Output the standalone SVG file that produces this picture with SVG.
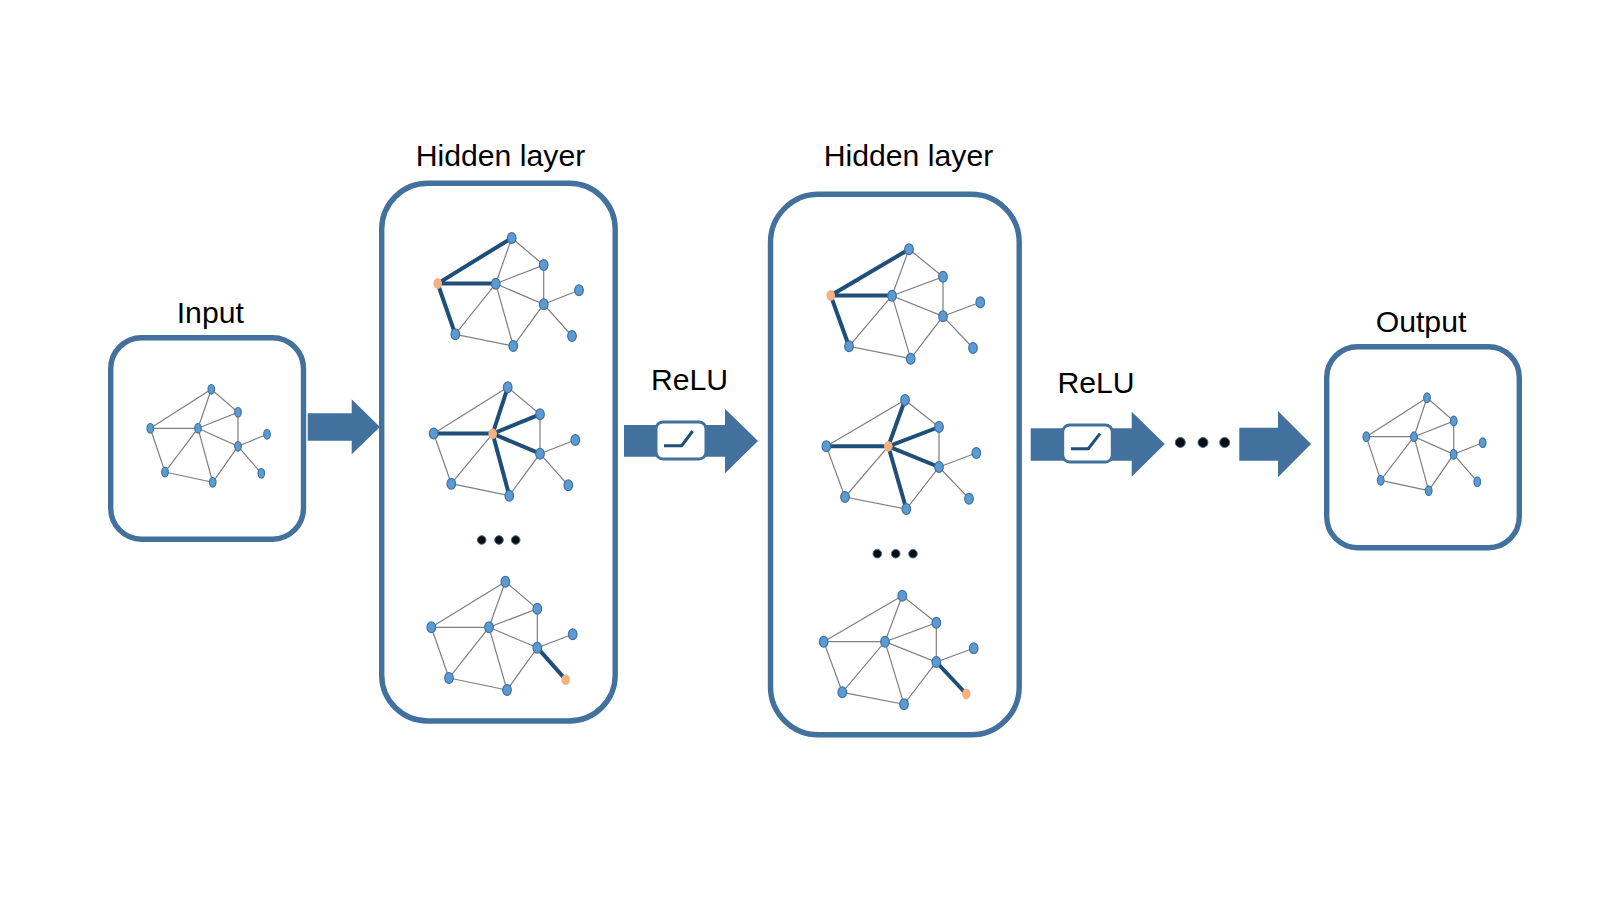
<svg xmlns="http://www.w3.org/2000/svg" width="1600" height="900" viewBox="0 0 1600 900">
<style>
text{font-family:"Liberation Sans",Arial,sans-serif;font-size:30.2px;fill:#000;text-anchor:middle}
.panel{fill:#fff;stroke:#41719c;stroke-width:5.4}
.arrow{fill:#41719c}
.e{stroke:#7f7f7f;stroke-width:1.2;fill:none}
.h{stroke:#1f4e79;stroke-width:4;fill:none}
.n{fill:#5b9bd5;stroke:#41719c;stroke-width:1.2}
.o{fill:#f4b183;stroke:none}
.s ellipse{rx:3.3px;ry:4.8px}
.b ellipse{rx:4.3px;ry:5.4px}
.dot{fill:#0d0d0d;stroke:#41719c;stroke-width:1}
.sw{fill:#fff;stroke:#41719c;stroke-width:3}
.gl{fill:none;stroke:#1f4e79;stroke-width:3}
</style>
<rect width="1600" height="900" fill="#fff"/>

<g id="input"><rect class="panel" x="110.7" y="337.7" width="192.8" height="201.5" rx="31"/><text x="210.3" y="323">Input</text></g>
<g id="hidden1"><rect class="panel" x="381.7" y="183.3" width="233.5" height="537.7" rx="46"/><text x="500.5" y="166">Hidden layer</text></g>
<g id="hidden2"><rect class="panel" x="770.5" y="194.3" width="248.7" height="540.5" rx="48"/><text x="908.5" y="166">Hidden layer</text></g>
<g id="output"><rect class="panel" x="1326.7" y="346.7" width="192.6" height="201" rx="31"/><text x="1421" y="332">Output</text></g>
<g id="label-relu1"><text x="689.5" y="390">ReLU</text></g>
<g id="label-relu2"><text x="1096" y="393">ReLU</text></g>

<g id="connectors">
<path id="arrow1" class="arrow" d="M307.7 413.3H351.7V399.3L380 427L351.7 454.3V440.7H307.7Z"/>
<path id="arrow2" class="arrow" d="M624 425H725V408.7L758 441L725 473.3V456.7H624Z"/>
<path id="arrow3" class="arrow" d="M1030.7 428.3H1131.7V411.7L1164.8 444L1131.7 476.7V460.7H1030.7Z"/>
<path id="arrow4" class="arrow" d="M1239.3 427.7H1278V411L1311 444L1278 477.3V460.7H1239.3Z"/>

<g id="edges-input" class="e"><path d="M150.3 428.3L211.3 389.3L238 412.3L198 428.3L211.3 389.3M238 412.3V446.3L198 428.3H150.3L165 472L198 428.3L212.7 482.3L165 472M212.7 482.3L238 446.3L267 434.3M238 446.3L261.3 473.3"/></g>

<g id="edges-h1a"><path class="e" d="M511.7 238L543.7 265L495.7 283.7L511.7 238M543.7 265V304.3L495.7 283.7L455.3 334.3L513.3 346L543.7 304.3L579 290.3M543.7 304.3L572 336M495.7 283.7L513.3 346"/><path class="h" d="M511.7 238L437.7 283.5L455.3 334.3M437.7 283.5H495.7"/></g>
<g id="edges-h1b"><path class="e" d="M433.7 433.5L507.7 387.3L540 414.3V453.7L509.3 495.7L451.3 483.7L433.7 433.5M451.3 483.7L492.7 433.7M540 453.7L575.3 440M540 453.7L568.3 485.3"/><path class="h" d="M433.7 433.5H492.7L507.7 387.3M492.7 433.7L540 414.3M492.7 433.7L540 453.7M492.7 433.7L509.3 495.7"/></g>
<g id="edges-h1c"><path class="e" d="M431.3 627.3L505.3 581.7L537.3 608.7L489 627.3L505.3 581.7M537.3 608.7V647.7L489 627.3H431.3L449 678L489 627.3L507 690L449 678M507 690L537.3 647.7L572.7 634.3"/><path class="h" d="M537.3 647.7L565.7 679.7"/></g>

<g id="edges-h2a"><path class="e" d="M909 249.3L943 276.7L892 295.7L909 249.3M943 276.7V316.3L892 295.7L849 346.3L910.7 358.7L943 316.3L980.3 302.3M943 316.3L973 348M892 295.7L910.7 358.7"/><path class="h" d="M909 249.3L830.7 295.5L849 346.3M830.7 295.5H892"/></g>
<g id="edges-h2b"><path class="e" d="M826.3 446.3L905 400L939 427V467L906.3 509L845 497L826.3 446.3M845 497L888.3 446.3M939 467L976.3 453M939 467L969 498.7"/><path class="h" d="M826.3 446.3H888.3L905 400M888.3 446.3L939 427M888.3 446.3L939 467M888.3 446.3L906.3 509"/></g>
<g id="edges-h2c"><path class="e" d="M823.7 641.7L902.3 595.7L936.3 622.7L885 641.7L902.3 595.7M936.3 622.7V662L885 641.7H823.7L842.3 692.3L885 641.7L904 704.3L842.3 692.3M904 704.3L936.3 662L973.7 648.3"/><path class="h" d="M936.3 662L966.3 694"/></g>

<g id="edges-output" class="e"><path d="M1366.3 436.7L1427 397.7L1453.7 421L1414 436.7L1427 397.7M1453.7 421V454.3L1414 436.7H1366.3L1380.7 480.3L1414 436.7L1428.7 490.7L1380.7 480.3M1428.7 490.7L1453.7 454.3L1482.7 442.7M1453.7 454.3L1477.3 481.7"/></g>
</g>

<g id="switch1"><rect class="sw" x="656" y="422" width="50" height="37" rx="7"/><path class="gl" d="M664 445.7H681.7L692.7 431"/></g>
<g id="switch2"><rect class="sw" x="1062.7" y="425" width="49.6" height="37" rx="7"/><path class="gl" d="M1071 448.7H1088.3L1100 433.7"/></g>

<g id="graph-input" class="s">
<g id="i-a"><ellipse class="n" cx="211.3" cy="389.3"/></g>
<g id="i-b"><ellipse class="n" cx="238" cy="412.3"/></g>
<g id="i-c"><ellipse class="n" cx="198" cy="428.3"/></g>
<g id="i-d"><ellipse class="n" cx="150.3" cy="428.3"/></g>
<g id="i-e"><ellipse class="n" cx="238" cy="446.3"/></g>
<g id="i-f"><ellipse class="n" cx="267" cy="434.3"/></g>
<g id="i-g"><ellipse class="n" cx="261.3" cy="473.3"/></g>
<g id="i-h"><ellipse class="n" cx="165" cy="472"/></g>
<g id="i-i"><ellipse class="n" cx="212.7" cy="482.3"/></g>
</g>
<g id="graph-h1a" class="b">
<g id="p-a"><ellipse class="n" cx="511.7" cy="238"/></g>
<g id="p-b"><ellipse class="n" cx="543.7" cy="265"/></g>
<g id="p-c"><ellipse class="n" cx="495.7" cy="283.7"/></g>
<g id="p-d"><ellipse class="o" cx="437.7" cy="283.5"/></g>
<g id="p-e"><ellipse class="n" cx="543.7" cy="304.3"/></g>
<g id="p-f"><ellipse class="n" cx="579" cy="290.3"/></g>
<g id="p-g"><ellipse class="n" cx="572" cy="336"/></g>
<g id="p-h"><ellipse class="n" cx="455.3" cy="334.3"/></g>
<g id="p-i"><ellipse class="n" cx="513.3" cy="346"/></g>
</g>
<g id="graph-h1b" class="b">
<g id="q-a"><ellipse class="n" cx="507.7" cy="387.3"/></g>
<g id="q-b"><ellipse class="n" cx="540" cy="414.3"/></g>
<g id="q-c"><ellipse class="o" cx="492.7" cy="433.7"/></g>
<g id="q-d"><ellipse class="n" cx="433.7" cy="433.5"/></g>
<g id="q-e"><ellipse class="n" cx="540" cy="453.7"/></g>
<g id="q-f"><ellipse class="n" cx="575.3" cy="440"/></g>
<g id="q-g"><ellipse class="n" cx="568.3" cy="485.3"/></g>
<g id="q-h"><ellipse class="n" cx="451.3" cy="483.7"/></g>
<g id="q-i"><ellipse class="n" cx="509.3" cy="495.7"/></g>
</g>
<g id="dots-h1"><circle class="dot" cx="481.7" cy="540" r="4.3"/><circle class="dot" cx="499" cy="540" r="4.3"/><circle class="dot" cx="515.7" cy="540" r="4.3"/></g>
<g id="graph-h1c" class="b">
<g id="r-a"><ellipse class="n" cx="505.3" cy="581.7"/></g>
<g id="r-b"><ellipse class="n" cx="537.3" cy="608.7"/></g>
<g id="r-c"><ellipse class="n" cx="489" cy="627.3"/></g>
<g id="r-d"><ellipse class="n" cx="431.3" cy="627.3"/></g>
<g id="r-e"><ellipse class="n" cx="537.3" cy="647.7"/></g>
<g id="r-f"><ellipse class="n" cx="572.7" cy="634.3"/></g>
<g id="r-g"><ellipse class="o" cx="565.7" cy="679.7"/></g>
<g id="r-h"><ellipse class="n" cx="449" cy="678"/></g>
<g id="r-i"><ellipse class="n" cx="507" cy="690"/></g>
</g>
<g id="graph-h2a" class="b">
<g id="t-a"><ellipse class="n" cx="909" cy="249.3"/></g>
<g id="t-b"><ellipse class="n" cx="943" cy="276.7"/></g>
<g id="t-c"><ellipse class="n" cx="892" cy="295.7"/></g>
<g id="t-d"><ellipse class="o" cx="830.7" cy="295.5"/></g>
<g id="t-e"><ellipse class="n" cx="943" cy="316.3"/></g>
<g id="t-f"><ellipse class="n" cx="980.3" cy="302.3"/></g>
<g id="t-g"><ellipse class="n" cx="973" cy="348"/></g>
<g id="t-h"><ellipse class="n" cx="849" cy="346.3"/></g>
<g id="t-i"><ellipse class="n" cx="910.7" cy="358.7"/></g>
</g>
<g id="graph-h2b" class="b">
<g id="u-a"><ellipse class="n" cx="905" cy="400"/></g>
<g id="u-b"><ellipse class="n" cx="939" cy="427"/></g>
<g id="u-c"><ellipse class="o" cx="888.3" cy="446.3"/></g>
<g id="u-d"><ellipse class="n" cx="826.3" cy="446.3"/></g>
<g id="u-e"><ellipse class="n" cx="939" cy="467"/></g>
<g id="u-f"><ellipse class="n" cx="976.3" cy="453"/></g>
<g id="u-g"><ellipse class="n" cx="969" cy="498.7"/></g>
<g id="u-h"><ellipse class="n" cx="845" cy="497"/></g>
<g id="u-i"><ellipse class="n" cx="906.3" cy="509"/></g>
</g>
<g id="dots-h2"><circle class="dot" cx="877.3" cy="553.7" r="4.3"/><circle class="dot" cx="895.7" cy="553.7" r="4.3"/><circle class="dot" cx="913" cy="553.7" r="4.3"/></g>
<g id="graph-h2c" class="b">
<g id="v-a"><ellipse class="n" cx="902.3" cy="595.7"/></g>
<g id="v-b"><ellipse class="n" cx="936.3" cy="622.7"/></g>
<g id="v-c"><ellipse class="n" cx="885" cy="641.7"/></g>
<g id="v-d"><ellipse class="n" cx="823.7" cy="641.7"/></g>
<g id="v-e"><ellipse class="n" cx="936.3" cy="662"/></g>
<g id="v-f"><ellipse class="n" cx="973.7" cy="648.3"/></g>
<g id="v-g"><ellipse class="o" cx="966.3" cy="694"/></g>
<g id="v-h"><ellipse class="n" cx="842.3" cy="692.3"/></g>
<g id="v-i"><ellipse class="n" cx="904" cy="704.3"/></g>
</g>
<g id="dots-flow"><circle class="dot" cx="1180.3" cy="442.5" r="5"/><circle class="dot" cx="1203" cy="442.5" r="5"/><circle class="dot" cx="1224.7" cy="442.5" r="5"/></g>
<g id="graph-output" class="s">
<g id="w-a"><ellipse class="n" cx="1427" cy="397.7"/></g>
<g id="w-b"><ellipse class="n" cx="1453.7" cy="421"/></g>
<g id="w-c"><ellipse class="n" cx="1414" cy="436.7"/></g>
<g id="w-d"><ellipse class="n" cx="1366.3" cy="436.7"/></g>
<g id="w-e"><ellipse class="n" cx="1453.7" cy="454.3"/></g>
<g id="w-f"><ellipse class="n" cx="1482.7" cy="442.7"/></g>
<g id="w-g"><ellipse class="n" cx="1477.3" cy="481.7"/></g>
<g id="w-h"><ellipse class="n" cx="1380.7" cy="480.3"/></g>
<g id="w-i"><ellipse class="n" cx="1428.7" cy="490.7"/></g>
</g>
</svg>
